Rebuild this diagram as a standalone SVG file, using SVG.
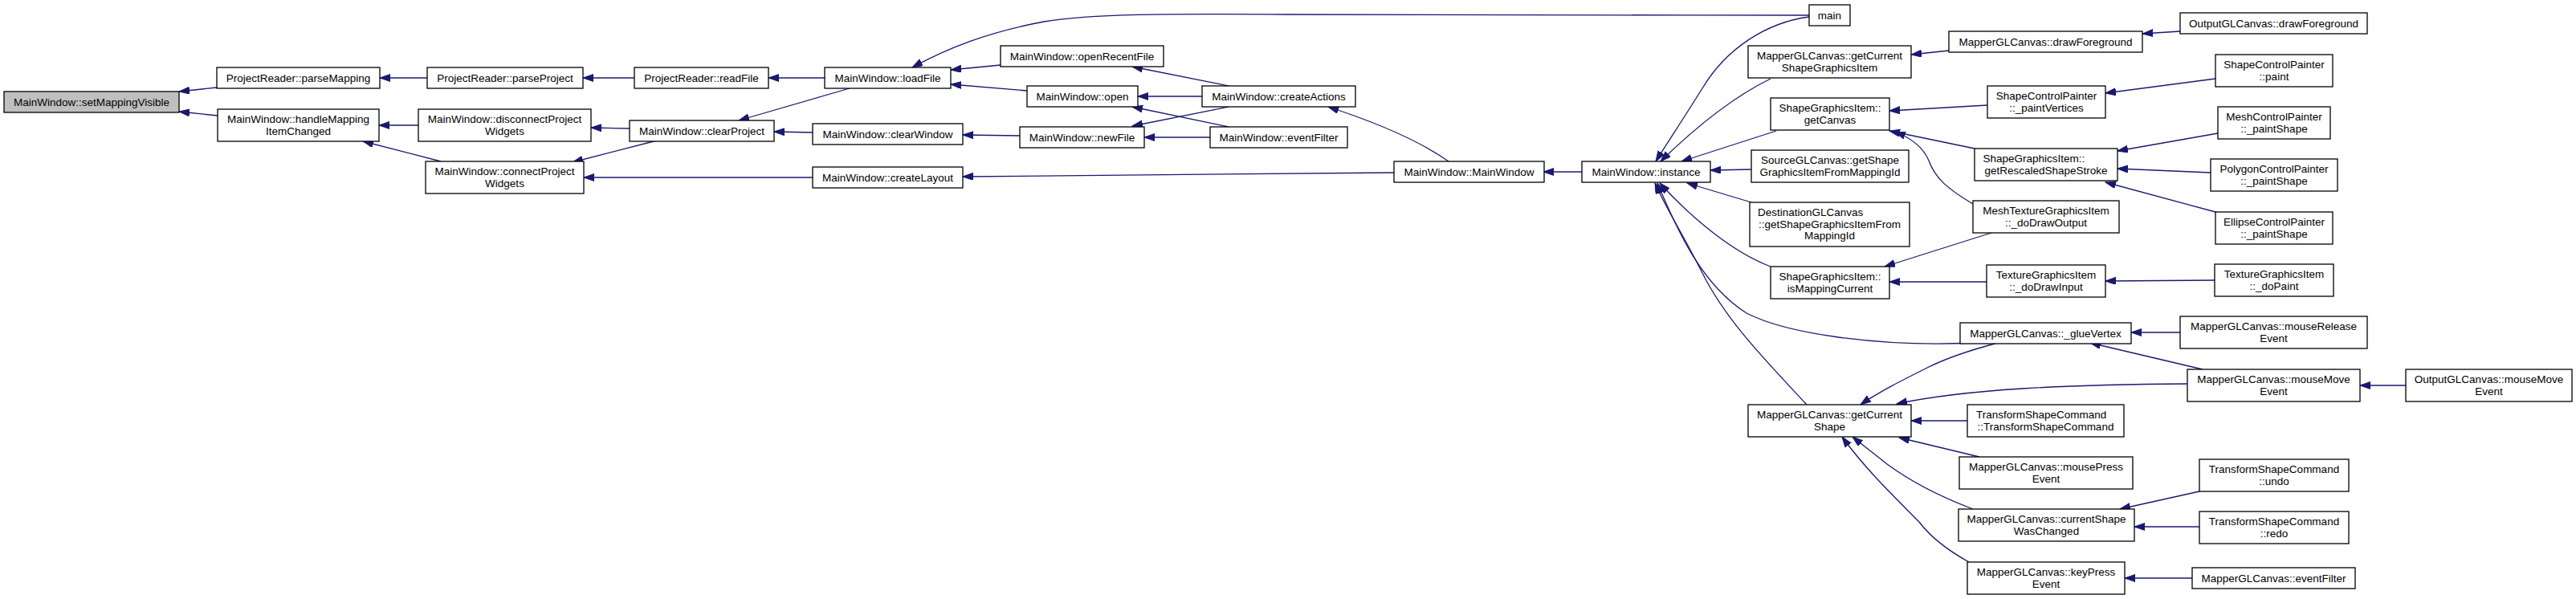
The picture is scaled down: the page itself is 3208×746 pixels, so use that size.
<svg xmlns="http://www.w3.org/2000/svg" width="3208" height="746" viewBox="0 0 3208 746">
<style>
.n rect{fill:#ffffff;stroke:#000000;stroke-width:1.3}
.n.root rect{fill:#bfbfbf}
.n text{font-family:"Liberation Sans",Arial,sans-serif;font-size:13.5px;fill:#000000;text-anchor:middle}
.n text.l{text-anchor:start}
#edges path{fill:none;stroke:#191970;stroke-width:1.3;marker-end:url(#ah)}
</style>
<defs>
<marker id="ah" markerUnits="userSpaceOnUse" markerWidth="14" markerHeight="10" refX="13" refY="4.5" orient="auto">
<path d="M0,0 L13,4.5 L0,9 Z" fill="#191970" stroke="#191970" stroke-width="1"/>
</marker>
</defs>
<rect width="3208" height="746" fill="#ffffff"/>
<g id="edges">
<path d="M270,109 L223,114"/>
<path d="M271,144 L223,139"/>
<path d="M532,97 L473,97"/>
<path d="M521,156 L472,156"/>
<path d="M549,201 L452,176"/>
<path d="M790,97 L726,97"/>
<path d="M784,160 L736,159"/>
<path d="M818,175 L713,202"/>
<path d="M1012,221 L727,221"/>
<path d="M1027,97 L957,97"/>
<path d="M1058,110 L920,150"/>
<path d="M1012,165 L964,164"/>
<path d="M1270,169 L1199,168"/>
<path d="M1246,81 L1184,87"/>
<path d="M1279,113 L1184,105"/>
<path d="M2253,19 C2000,19 1700,18 1600,18 C1450,17 1360,17 1300,27 C1230,40 1180,60 1136,84"/>
<path d="M1530,107 L1410,83"/>
<path d="M1497,120 L1417,120"/>
<path d="M1530,133 L1410,157"/>
<path d="M1530,158 L1410,133"/>
<path d="M1507,171 L1425,171"/>
<path d="M1804,201 C1760,170 1700,148 1654,133"/>
<path d="M1736,215 L1199,220"/>
<path d="M1970,214 L1922,214"/>
<path d="M2253,21 C2200,28 2150,60 2120,110 C2095,150 2075,180 2062,201"/>
<path d="M2205,98 C2160,120 2110,160 2068,201"/>
<path d="M2212,163 L2094,201"/>
<path d="M2181,211 L2130,212"/>
<path d="M2181,252 L2101,228"/>
<path d="M2205,332 C2160,315 2110,275 2067,228"/>
<path d="M2250,504 C2200,450 2150,400 2120,340 C2095,290 2075,260 2061,228"/>
<path d="M2457,427 C2350,432 2230,418 2175,390 C2120,355 2090,290 2064,228"/>
<path d="M2488,427 C2450,437 2420,448 2400,458 C2370,473 2340,488 2317,504"/>
<path d="M2724,478 C2580,479 2450,484 2362,503"/>
<path d="M2450,524 L2380,524"/>
<path d="M2465,569 L2365,545"/>
<path d="M2457,634 C2420,620 2380,600 2350,578 C2330,562 2318,553 2307,544"/>
<path d="M2452,700 C2425,685 2405,670 2390,650 C2350,610 2320,580 2294,544"/>
<path d="M2427,63 L2380,68"/>
<path d="M2475,131 L2353,138"/>
<path d="M2459,185 L2353,163"/>
<path d="M2457,254 C2425,235 2410,222 2402,200 C2395,183 2380,172 2360,164"/>
<path d="M2480,290 L2347,332"/>
<path d="M2474,351 L2353,351"/>
<path d="M2715,39 L2668,42"/>
<path d="M2759,98 L2622,116"/>
<path d="M2762,166 L2637,188"/>
<path d="M2753,215 L2637,210"/>
<path d="M2759,264 L2622,227"/>
<path d="M2758,349 L2622,350"/>
<path d="M2715,414 L2654,414"/>
<path d="M2743,460 L2603,427"/>
<path d="M2996,480 L2939,480"/>
<path d="M2739,612 L2640,634"/>
<path d="M2739,656 L2658,656"/>
<path d="M2730,720 L2646,720"/>
</g>
<g id="n1" class="n root"><rect x="5" y="114" width="218" height="26"/><text x="114" y="131.5">MainWindow::setMappingVisible</text></g>
<g id="n2" class="n"><rect x="270" y="84" width="203" height="26"/><text x="371.5" y="101.5">ProjectReader::parseMapping</text></g>
<g id="n3" class="n"><rect x="271" y="136" width="201" height="40"/><text x="371.5" y="152.5">MainWindow::handleMapping</text><text x="371.5" y="167.5">ItemChanged</text></g>
<g id="n4" class="n"><rect x="532" y="84" width="194" height="26"/><text x="629" y="101.5">ProjectReader::parseProject</text></g>
<g id="n5" class="n"><rect x="521" y="136" width="215" height="40"/><text x="628.5" y="152.5">MainWindow::disconnectProject</text><text x="628.5" y="167.5">Widgets</text></g>
<g id="n6" class="n"><rect x="530" y="201" width="197" height="40"/><text x="628.5" y="217.5">MainWindow::connectProject</text><text x="628.5" y="232.5">Widgets</text></g>
<g id="n7" class="n"><rect x="790" y="84" width="167" height="26"/><text x="873.5" y="101.5">ProjectReader::readFile</text></g>
<g id="n8" class="n"><rect x="784" y="150" width="180" height="26"/><text x="874" y="167.5">MainWindow::clearProject</text></g>
<g id="n9" class="n"><rect x="1027" y="84" width="157" height="26"/><text x="1105.5" y="101.5">MainWindow::loadFile</text></g>
<g id="n10" class="n"><rect x="1012" y="154" width="187" height="26"/><text x="1105.5" y="171.5">MainWindow::clearWindow</text></g>
<g id="n11" class="n"><rect x="1012" y="208" width="187" height="26"/><text x="1105.5" y="225.5">MainWindow::createLayout</text></g>
<g id="n12" class="n"><rect x="1246" y="57" width="203" height="26"/><text x="1347.5" y="74.5">MainWindow::openRecentFile</text></g>
<g id="n13" class="n"><rect x="1279" y="107" width="138" height="26"/><text x="1348" y="124.5">MainWindow::open</text></g>
<g id="n14" class="n"><rect x="1270" y="158" width="155" height="26"/><text x="1347.5" y="175.5">MainWindow::newFile</text></g>
<g id="n15" class="n"><rect x="1497" y="107" width="191" height="26"/><text x="1592.5" y="124.5">MainWindow::createActions</text></g>
<g id="n16" class="n"><rect x="1507" y="158" width="171" height="26"/><text x="1592.5" y="175.5">MainWindow::eventFilter</text></g>
<g id="n17" class="n"><rect x="1736" y="201" width="187" height="26"/><text x="1829.5" y="218.5">MainWindow::MainWindow</text></g>
<g id="n18" class="n"><rect x="1970" y="201" width="160" height="26"/><text x="2050" y="218.5">MainWindow::instance</text></g>
<g id="n19" class="n"><rect x="2253" y="6" width="51" height="26"/><text x="2278.5" y="23.5">main</text></g>
<g id="n20" class="n"><rect x="2177" y="57" width="203" height="40"/><text x="2278.5" y="73.5">MapperGLCanvas::getCurrent</text><text x="2278.5" y="88.5">ShapeGraphicsItem</text></g>
<g id="n21" class="n"><rect x="2205" y="122" width="148" height="40"/><text x="2279" y="138.5">ShapeGraphicsItem::</text><text x="2279" y="153.5">getCanvas</text></g>
<g id="n22" class="n"><rect x="2181" y="187" width="196" height="40"/><text x="2279" y="203.5">SourceGLCanvas::getShape</text><text x="2279" y="218.5">GraphicsItemFromMappingId</text></g>
<g id="n23" class="n"><rect x="2179" y="252" width="199" height="55"/><text class="l" x="2189" y="269">DestinationGLCanvas</text><text x="2278.5" y="283.5">::getShapeGraphicsItemFrom</text><text x="2278.5" y="298">MappingId</text></g>
<g id="n24" class="n"><rect x="2205" y="332" width="148" height="40"/><text x="2279" y="348.5">ShapeGraphicsItem::</text><text x="2279" y="363.5">isMappingCurrent</text></g>
<g id="n25" class="n"><rect x="2177" y="504" width="203" height="40"/><text x="2278.5" y="520.5">MapperGLCanvas::getCurrent</text><text x="2278.5" y="535.5">Shape</text></g>
<g id="n26" class="n"><rect x="2427" y="39" width="241" height="26"/><text x="2547.5" y="56.5">MapperGLCanvas::drawForeground</text></g>
<g id="n27" class="n"><rect x="2475" y="107" width="147" height="40"/><text x="2548.5" y="123.5">ShapeControlPainter</text><text x="2548.5" y="138.5">::_paintVertices</text></g>
<g id="n28" class="n"><rect x="2459" y="185" width="178" height="40"/><text class="l" x="2469.5" y="201.5">ShapeGraphicsItem::</text><text x="2548" y="216.5">getRescaledShapeStroke</text></g>
<g id="n29" class="n"><rect x="2457" y="250" width="182" height="40"/><text x="2548" y="266.5">MeshTextureGraphicsItem</text><text x="2548" y="281.5">::_doDrawOutput</text></g>
<g id="n30" class="n"><rect x="2474" y="330" width="148" height="40"/><text x="2548" y="346.5">TextureGraphicsItem</text><text x="2548" y="361.5">::_doDrawInput</text></g>
<g id="n31" class="n"><rect x="2441" y="402" width="213" height="26"/><text x="2547.5" y="419.5">MapperGLCanvas::_glueVertex</text></g>
<g id="n32" class="n"><rect x="2450" y="504" width="195" height="40"/><text class="l" x="2461" y="520.5">TransformShapeCommand</text><text x="2547.5" y="535.5">::TransformShapeCommand</text></g>
<g id="n33" class="n"><rect x="2440" y="569" width="216" height="40"/><text x="2548" y="585.5">MapperGLCanvas::mousePress</text><text x="2548" y="600.5">Event</text></g>
<g id="n34" class="n"><rect x="2439" y="634" width="219" height="40"/><text x="2548.5" y="650.5">MapperGLCanvas::currentShape</text><text x="2548.5" y="665.5">WasChanged</text></g>
<g id="n35" class="n"><rect x="2450" y="700" width="196" height="40"/><text x="2548" y="716.5">MapperGLCanvas::keyPress</text><text x="2548" y="731.5">Event</text></g>
<g id="n36" class="n"><rect x="2715" y="16" width="233" height="26"/><text x="2831.5" y="33.5">OutputGLCanvas::drawForeground</text></g>
<g id="n37" class="n"><rect x="2759" y="68" width="146" height="40"/><text x="2832" y="84.5">ShapeControlPainter</text><text x="2832" y="99.5">::paint</text></g>
<g id="n38" class="n"><rect x="2762" y="133" width="140" height="40"/><text x="2832" y="149.5">MeshControlPainter</text><text x="2832" y="164.5">::_paintShape</text></g>
<g id="n39" class="n"><rect x="2753" y="198" width="158" height="40"/><text x="2832" y="214.5">PolygonControlPainter</text><text x="2832" y="229.5">::_paintShape</text></g>
<g id="n40" class="n"><rect x="2759" y="264" width="146" height="40"/><text x="2832" y="280.5">EllipseControlPainter</text><text x="2832" y="295.5">::_paintShape</text></g>
<g id="n41" class="n"><rect x="2758" y="329" width="148" height="40"/><text x="2832" y="345.5">TextureGraphicsItem</text><text x="2832" y="360.5">::_doPaint</text></g>
<g id="n42" class="n"><rect x="2715" y="394" width="233" height="40"/><text x="2831.5" y="410.5">MapperGLCanvas::mouseRelease</text><text x="2831.5" y="425.5">Event</text></g>
<g id="n43" class="n"><rect x="2724" y="460" width="215" height="40"/><text x="2831.5" y="476.5">MapperGLCanvas::mouseMove</text><text x="2831.5" y="491.5">Event</text></g>
<g id="n44" class="n"><rect x="2739" y="572" width="186" height="40"/><text x="2832" y="588.5">TransformShapeCommand</text><text x="2832" y="603.5">::undo</text></g>
<g id="n45" class="n"><rect x="2739" y="637" width="186" height="40"/><text x="2832" y="653.5">TransformShapeCommand</text><text x="2832" y="668.5">::redo</text></g>
<g id="n46" class="n"><rect x="2730" y="707" width="203" height="26"/><text x="2831.5" y="724.5">MapperGLCanvas::eventFilter</text></g>
<g id="n47" class="n"><rect x="2996" y="460" width="207" height="40"/><text x="3099.5" y="476.5">OutputGLCanvas::mouseMove</text><text x="3099.5" y="491.5">Event</text></g>
</svg>
